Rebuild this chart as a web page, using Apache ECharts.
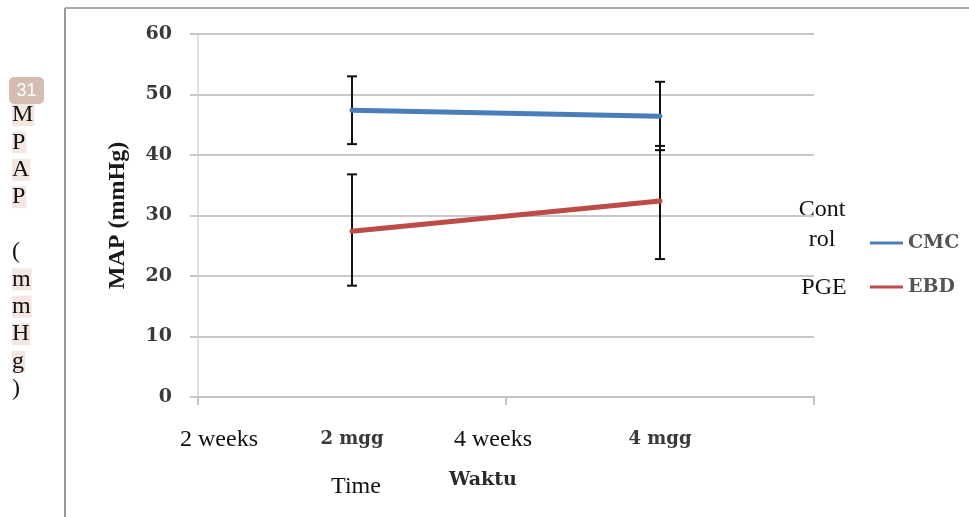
<!DOCTYPE html>
<html>
<head>
<meta charset="utf-8">
<script src="https://cdn.jsdelivr.net/npm/echarts@6/dist/echarts.min.js"></script>
<style>html,body{margin:0;padding:0;background:#fff}#c{width:969px;height:517px}</style>
</head>
<body>
<div id="c"></div>
<script>
var categories = ['2 mgg', '4 mgg'];
var cmcValues = [47.4, 46.4];
var ebdValues = [27.4, 32.4];
var cmcErrors = [[0, 41.8, 53.0], [1, 40.8, 52.1]];
var ebdErrors = [[0, 18.4, 36.8], [1, 22.8, 41.5]];
var yTicks = { min: 0, max: 60, interval: 10 };
var sideLetters = ['M', 'P', 'A', 'P', '', '(', 'm', 'm', 'H', 'g', ')'];

var chart = echarts.init(document.getElementById('c'));
var serif = 'DejaVu Serif';
var times = 'Liberation Serif';

function errorItem(params, api) {
  var x = api.value(0);
  var lo = api.coord([x, api.value(1)]);
  var hi = api.coord([x, api.value(2)]);
  var cap = 5;
  var st = { stroke: '#111', lineWidth: 2 };
  return {
    type: 'group',
    children: [
      { type: 'line', shape: { x1: lo[0], y1: lo[1], x2: hi[0], y2: hi[1] }, style: st },
      { type: 'line', shape: { x1: lo[0] - cap, y1: lo[1], x2: lo[0] + cap, y2: lo[1] }, style: st },
      { type: 'line', shape: { x1: hi[0] - cap, y1: hi[1], x2: hi[0] + cap, y2: hi[1] }, style: st }
    ]
  };
}

var graphics = [
  { type: 'line', shape: { x1: 65, y1: 8, x2: 65, y2: 517 }, style: { stroke: '#999', lineWidth: 2 } },
  { type: 'line', shape: { x1: 65, y1: 8, x2: 969, y2: 8 }, style: { stroke: '#aaa', lineWidth: 2 } },
  { type: 'text', x: 219, y: 440, style: { text: '2 weeks', fill: '#111', font: '24px ' + times, align: 'center', verticalAlign: 'middle' } },
  { type: 'text', x: 493, y: 440, style: { text: '4 weeks', fill: '#111', font: '24px ' + times, align: 'center', verticalAlign: 'middle' } },
  { type: 'text', x: 356, y: 487, style: { text: 'Time', fill: '#111', font: '24px ' + times, align: 'center', verticalAlign: 'middle' } },
  { type: 'text', x: 822, y: 210, style: { text: 'Cont', fill: '#111', font: '24px ' + times, align: 'center', verticalAlign: 'middle' } },
  { type: 'text', x: 822, y: 240, style: { text: 'rol', fill: '#111', font: '24px ' + times, align: 'center', verticalAlign: 'middle' } },
  { type: 'text', x: 824, y: 288, style: { text: 'PGE', fill: '#111', font: '24px ' + times, align: 'center', verticalAlign: 'middle' } },
  { type: 'text', x: 483, y: 480, style: { text: 'Waktu', fill: '#2a2a2a', font: 'bold 19px ' + serif, align: 'center', verticalAlign: 'middle' } }
];
sideLetters.forEach(function (ch, i) {
  if (!ch) return;
  var hl = ch !== '(' && ch !== ')';
  graphics.push({
    type: 'text', x: 12, y: 115 + i * 27.4,
    style: {
      text: ch, fill: '#111', font: '24px ' + times, align: 'left', verticalAlign: 'middle',
      backgroundColor: hl ? '#f4e6e1' : 'transparent', padding: [0, 1, 0, 0], lineHeight: 22
    }
  });
});
graphics.push({ type: 'rect', shape: { x: 9, y: 77, width: 35, height: 27, r: 5 }, style: { fill: '#d6bdb1' }, z: 10 });
graphics.push({ type: 'text', x: 26.5, y: 91, z: 11, style: { text: '31', fill: '#fff', font: '18px Liberation Sans', align: 'center', verticalAlign: 'middle' } });

chart.setOption({
  animation: false,
  grid: { left: 198, right: 155, top: 34, bottom: 120 },
  legend: {
    data: ['CMC', 'EBD'],
    orient: 'vertical',
    left: 870, top: 233, padding: 0,
    itemWidth: 33, itemHeight: 3, itemGap: 24,
    icon: 'rect',
    textStyle: { fontFamily: serif, fontWeight: 'bold', fontSize: 19, color: '#555', lineHeight: 20 }
  },
  xAxis: {
    type: 'category',
    data: categories,
    boundaryGap: true,
    axisLine: { lineStyle: { color: '#c4c4c4', width: 2 } },
    axisTick: { show: true, length: 8, lineStyle: { color: '#c4c4c4', width: 2 } },
    axisLabel: { margin: 33, fontFamily: serif, fontWeight: 'bold', fontSize: 18, color: '#3a3a3a' },
    splitLine: { show: false }
  },
  yAxis: {
    type: 'value',
    min: yTicks.min, max: yTicks.max, interval: yTicks.interval,
    name: 'MAP (mmHg)',
    nameLocation: 'middle',
    nameGap: 68,
    nameRotate: 90,
    nameTextStyle: { fontFamily: times, fontWeight: 'bold', fontSize: 24, color: '#1a1a1a' },
    axisLine: { show: true, lineStyle: { color: '#d4d4d4', width: 1.5 } },
    axisTick: { show: true, length: 8, lineStyle: { color: '#c8c8c8', width: 2 } },
    axisLabel: { margin: 26, fontFamily: serif, fontWeight: 'bold', fontSize: 19, color: '#3a3a3a' },
    splitLine: { lineStyle: { color: '#c8c8c8', width: 2 } }
  },
  series: [
    { type: 'custom', name: 'cmcErr', data: cmcErrors, renderItem: errorItem, z: 1, silent: true },
    { type: 'custom', name: 'ebdErr', data: ebdErrors, renderItem: errorItem, z: 1, silent: true },
    { type: 'line', name: 'CMC', data: cmcValues, symbol: 'none', z: 3, color: '#4a7ebb',
      lineStyle: { color: '#4a7ebb', width: 5, cap: 'round' } },
    { type: 'line', name: 'EBD', data: ebdValues, symbol: 'none', z: 3, color: '#be4b48',
      lineStyle: { color: '#be4b48', width: 5, cap: 'round' } }
  ],
  graphic: graphics
});
</script>
</body>
</html>
